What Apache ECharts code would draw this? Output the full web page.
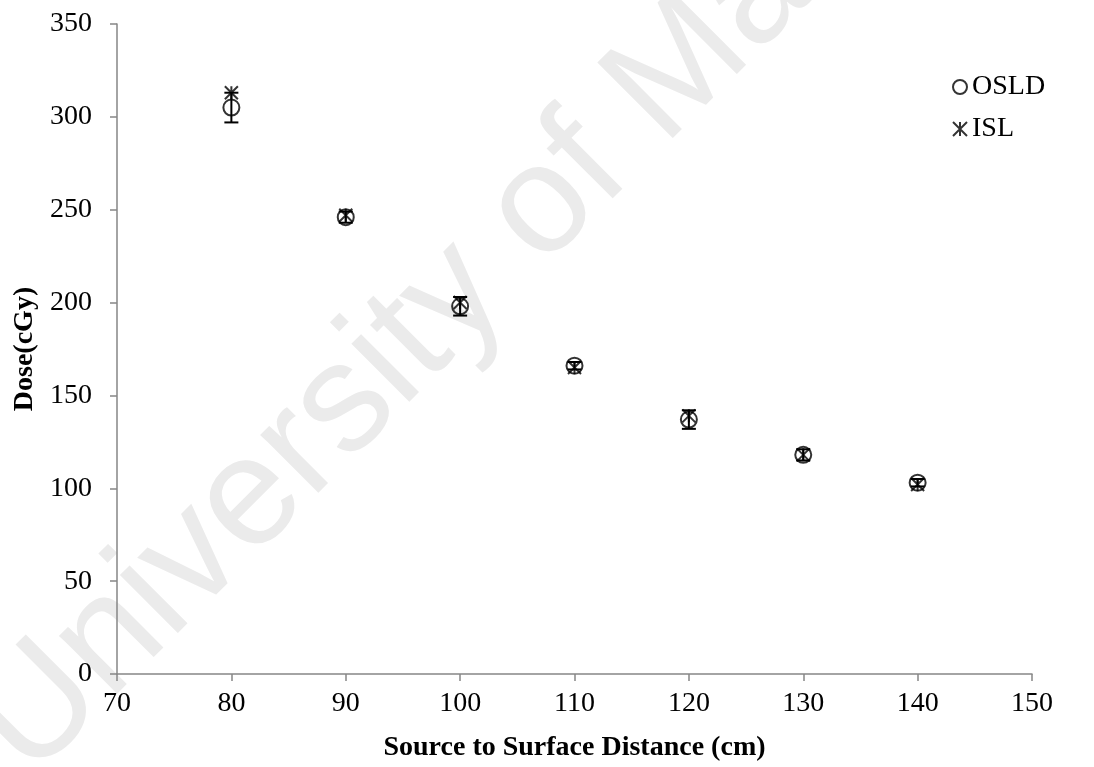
<!DOCTYPE html>
<html>
<head>
<meta charset="utf-8">
<script src="https://cdn.jsdelivr.net/npm/echarts@6/dist/echarts.min.js"></script>
<style>html,body{margin:0;padding:0;background:#fff;}#c{width:1094px;height:767px;}</style>
</head>
<body>
<div id="c"></div>
<script>
const distances = [80, 90, 100, 110, 120, 130, 140];
const osldDose = [305, 246, 198, 166, 137, 118, 103];
const osldErr = [8, 3, 5, 2, 5, 3, 2];
const islDose = [313, 247, 200, 165, 139, 118, 102];
const xTicks = [70, 80, 90, 100, 110, 120, 130, 140, 150];
const yTicks = [0, 50, 100, 150, 200, 250, 300, 350];

const serif = '"Liberation Serif", "Times New Roman", serif';
const asterisk = 'path://M0,0 L10,10 M10,0 L0,10 M5,0 L5,10';

const chart = echarts.init(document.getElementById('c'));
chart.setOption({
  animation: false,
  backgroundColor: '#fff',
  graphic: [{
    type: 'text',
    z: -10,
    x: 55, y: 805,
    rotation: Math.PI / 4,
    style: {
      text: 'University of Malaya',
      font: '155px "Liberation Sans", Arial, sans-serif',
      fill: '#ebebeb',
      textAlign: 'left',
      textVerticalAlign: 'bottom'
    }
  }],
  grid: { left: 117, right: 62, top: 24, bottom: 92 },
  legend: {
    orient: 'vertical',
    left: 947, top: 68,
    itemGap: 14,
    itemWidth: 14, itemHeight: 14,
    textStyle: { fontFamily: serif, fontSize: 28, color: '#000' },
    data: ['OSLD', 'ISL']
  },
  xAxis: {
    type: 'value', min: xTicks[0], max: xTicks[xTicks.length-1], interval: 10,
    name: 'Source to Surface Distance (cm)', nameLocation: 'middle', nameGap: 60,
    nameTextStyle: { fontFamily: serif, fontSize: 28, fontWeight: 'bold', color: '#000' },
    axisLine: { lineStyle: { color: '#868686', width: 1.5 } },
    axisTick: { show: true, inside: false, length: 7, lineStyle: { color: '#868686', width: 1.5 } },
    axisLabel: { fontFamily: serif, fontSize: 28, color: '#000', margin: 16 },
    splitLine: { show: false }
  },
  yAxis: {
    type: 'value', min: yTicks[0], max: yTicks[yTicks.length-1], interval: 50,
    name: 'Dose(cGy)', nameLocation: 'middle', nameGap: 78,
    nameTextStyle: { fontFamily: serif, fontSize: 28, fontWeight: 'bold', color: '#000' },
    axisLine: { show: true, lineStyle: { color: '#868686', width: 1.5 } },
    axisTick: { show: true, inside: false, length: 7, lineStyle: { color: '#868686', width: 1.5 } },
    axisLabel: { fontFamily: serif, fontSize: 28, color: '#000', margin: 25 },
    splitLine: { show: false }
  },
  series: [
    {
      name: 'errbar', type: 'custom',
      data: distances.map((d, i) => [d, osldDose[i] - osldErr[i], osldDose[i] + osldErr[i]]),
      renderItem: function (params, api) {
        const x = api.value(0);
        const lo = api.coord([x, api.value(1)]);
        const hi = api.coord([x, api.value(2)]);
        const hw = 7;
        const st = { stroke: '#000', lineWidth: 2 };
        return { type: 'group', children: [
          { type: 'line', shape: { x1: lo[0], y1: lo[1], x2: hi[0], y2: hi[1] }, style: st },
          { type: 'line', shape: { x1: lo[0]-hw, y1: lo[1], x2: lo[0]+hw, y2: lo[1] }, style: st },
          { type: 'line', shape: { x1: hi[0]-hw, y1: hi[1], x2: hi[0]+hw, y2: hi[1] }, style: st }
        ]};
      },
      z: 3
    },
    {
      name: 'OSLD', type: 'scatter',
      data: distances.map((d, i) => [d, osldDose[i]]),
      symbol: 'circle', symbolSize: 16,
      itemStyle: { color: 'rgba(0,0,0,0)', borderColor: '#000', borderWidth: 2 },
      z: 4
    },
    {
      name: 'ISL', type: 'scatter',
      data: distances.map((d, i) => [d, islDose[i]]),
      symbol: asterisk, symbolSize: 13,
      itemStyle: { color: 'rgba(0,0,0,0)', borderColor: '#000', borderWidth: 2 },
      z: 5
    }
  ]
});
</script>
</body>
</html>
